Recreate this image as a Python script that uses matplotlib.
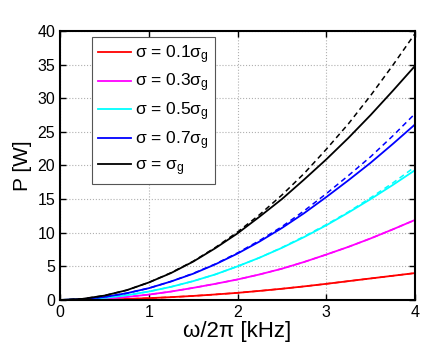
import matplotlib
matplotlib.use("Agg")
import matplotlib.pyplot as plt

plt.rcParams['font.family'] = ['Liberation Sans', 'DejaVu Sans']
plt.rcParams['mathtext.fontset'] = 'custom'
plt.rcParams['mathtext.rm'] = 'Liberation Sans'
plt.rcParams['mathtext.it'] = 'Liberation Sans:italic'

freq = [0, 0.25, 0.5, 0.75, 1.0, 1.25, 1.5, 1.75, 2.0, 2.25, 2.5, 2.75, 3.0, 3.25, 3.5, 3.75, 4.0]

red_solid = [0, 0.02, 0.07, 0.15, 0.27, 0.42, 0.6, 0.82, 1.06, 1.35, 1.67, 2.02, 2.4, 2.8, 3.2, 3.6, 4.0]
red_dash = [0, 0.02, 0.07, 0.15, 0.27, 0.42, 0.6, 0.82, 1.06, 1.35, 1.67, 2.02, 2.4, 2.8, 3.2, 3.6, 4.0]
mag_solid = [0, 0.05, 0.2, 0.45, 0.8, 1.25, 1.8, 2.4, 3.05, 3.8, 4.65, 5.65, 6.75, 7.9, 9.15, 10.5, 11.9]
mag_dash = [0, 0.05, 0.2, 0.45, 0.8, 1.25, 1.8, 2.4, 3.05, 3.8, 4.65, 5.65, 6.75, 7.9, 9.15, 10.5, 11.9]
cyan_solid = [0, 0.08, 0.32, 0.7, 1.25, 1.95, 2.8, 3.8, 5.0, 6.3, 7.75, 9.35, 11.1, 13.0, 15.0, 17.1, 19.3]
cyan_dash = [0, 0.08, 0.32, 0.7, 1.25, 1.95, 2.8, 3.8, 5.0, 6.3, 7.8, 9.45, 11.2, 13.1, 15.2, 17.4, 19.8]
blue_solid = [0, 0.11, 0.45, 1.0, 1.75, 2.75, 3.9, 5.3, 6.9, 8.7, 10.7, 12.9, 15.3, 17.8, 20.4, 23.2, 26.1]
blue_dash = [0, 0.11, 0.45, 1.0, 1.75, 2.75, 3.95, 5.35, 7.0, 8.85, 10.9, 13.25, 15.8, 18.5, 21.3, 24.4, 27.7]
black_solid = [0, 0.16, 0.65, 1.45, 2.6, 4.0, 5.7, 7.7, 9.9, 12.4, 15.0, 17.9, 20.9, 24.1, 27.5, 31.1, 34.8]
black_dash = [0, 0.16, 0.65, 1.45, 2.6, 4.05, 5.75, 7.8, 10.1, 12.7, 15.6, 18.8, 22.4, 26.2, 30.4, 34.9, 39.6]

labels = [r'σ = 0.1σ$_{\mathrm{g}}$', r'σ = 0.3σ$_{\mathrm{g}}$', r'σ = 0.5σ$_{\mathrm{g}}$',
          r'σ = 0.7σ$_{\mathrm{g}}$', r'σ = σ$_{\mathrm{g}}$']
colors = ['#ff0000', '#ff00ff', '#00ffff', '#0000ff', '#000000']
solids = [red_solid, mag_solid, cyan_solid, blue_solid, black_solid]
dashes = [red_dash, mag_dash, cyan_dash, blue_dash, black_dash]

fig = plt.figure(figsize=(4.35, 3.48), dpi=100)
ax = fig.add_axes([0.138, 0.138, 0.816, 0.773])

handles = []
for s, d, c, lab in zip(solids, dashes, colors, labels):
    h, = ax.plot(freq, s, color=c, lw=1.3, label=lab)
    ax.plot(freq, d, color=c, lw=1.1, ls=(0, (3.5, 2.5)))
    handles.append(h)

ax.set_xlim(0, 4)
ax.set_ylim(0, 40)
ax.set_xticks([0, 1, 2, 3, 4])
ax.set_yticks(range(0, 41, 5))
ax.grid(True, color='#b0b0b0', ls=':', lw=0.8)
ax.tick_params(direction='in', top=True, right=True, labelsize=11.5, length=4, width=1)
for sp in ax.spines.values():
    sp.set_linewidth(1.5)
ax.set_xlabel('ω/2π [kHz]', fontsize=16, labelpad=1)
ax.set_ylabel('P [W]', fontsize=15, labelpad=4)

leg = ax.legend(handles=handles, loc='upper left', bbox_to_anchor=(0.09, 0.978),
                borderaxespad=0, fontsize=12.5, frameon=True, fancybox=False, framealpha=1,
                edgecolor='#555555', handlelength=1.9, labelspacing=0.36,
                borderpad=0.35, handletextpad=0.25)
leg.get_frame().set_linewidth(0.8)

fig.savefig('out.png', dpi=100)
